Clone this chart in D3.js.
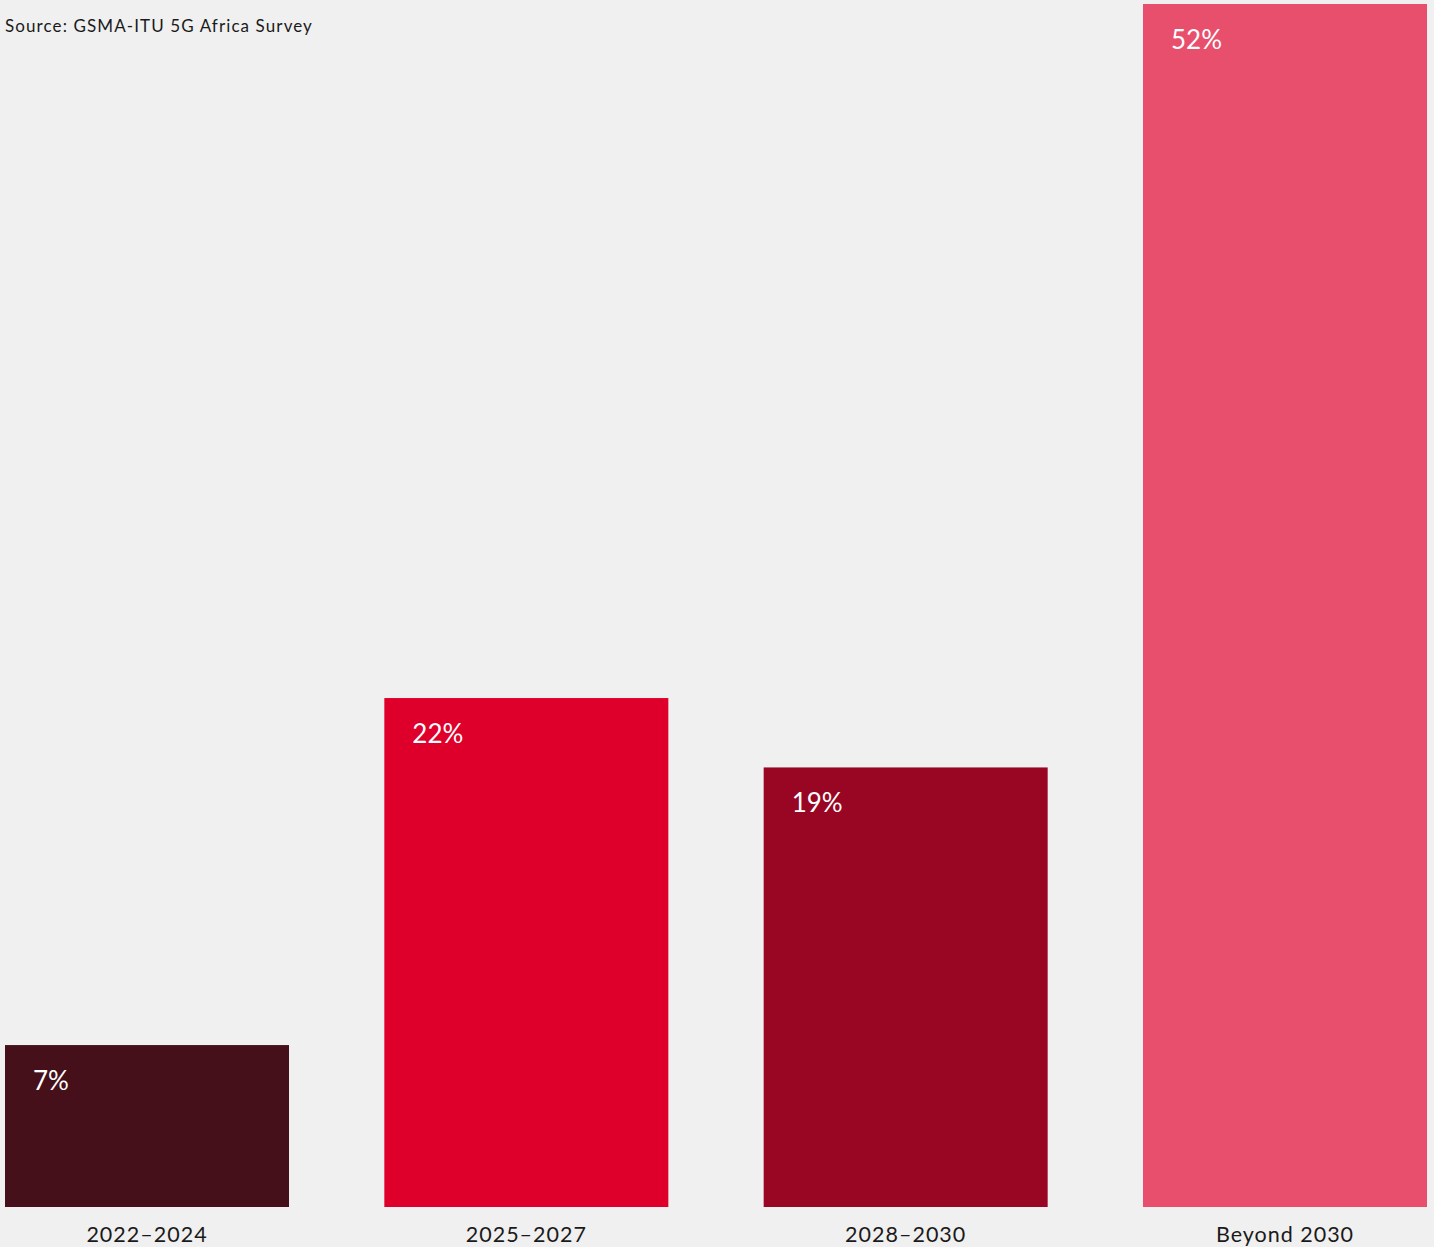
<!DOCTYPE html>
<html>
<head>
<meta charset="utf-8">
<script src="https://cdn.jsdelivr.net/npm/d3@7"></script>
<style>
html, body { margin: 0; padding: 0; background: #f0f0f0; }
svg { display: block; }
</style>
</head>
<body>
<svg id="chart" width="1434" height="1247"></svg>
<script>
const categories = ["2022–2024", "2025–2027", "2028–2030", "Beyond 2030"];
const values = [7, 22, 19, 52];
const valueLabels = ["7%", "22%", "19%", "52%"];
const colors = ["#45101a", "#de002b", "#980624", "#e74f6c"];
const sourceText = "Source: GSMA-ITU 5G Africa Survey";

const W = 1434, H = 1247;
const svg = d3.select("#chart");
svg.append("rect").attr("width", W).attr("height", H).attr("fill", "#f0f0f0");

const x = d3.scaleBand().domain(categories).range([5, 1427]).paddingInner(0.2513).paddingOuter(0);
const y = d3.scaleLinear().domain([0, 52]).range([1207, 4]);

const data = categories.map((c, i) => ({ c, v: values[i], label: valueLabels[i], color: colors[i] }));

svg.selectAll("rect.bar").data(data).enter().append("rect")
  .attr("class", "bar")
  .attr("x", d => x(d.c))
  .attr("y", d => y(d.v))
  .attr("width", x.bandwidth())
  .attr("height", d => y(0) - y(d.v))
  .attr("fill", d => d.color);

svg.selectAll("text.val").data(data).enter().append("text")
  .attr("class", "val")
  .attr("x", d => x(d.c) + 28)
  .attr("y", d => y(d.v) + 45)
  .attr("fill", "#ffffff")
  .style("font-family", "Lato, 'Open Sans', sans-serif")
  .style("font-size", "26px")
  .text(d => d.label);

const xAxis = d3.axisBottom(x).tickSize(0).tickPadding(0);
const gx = svg.append("g").attr("transform", "translate(0,1207)").call(xAxis);
gx.select(".domain").remove();
gx.selectAll("text")
  .attr("dy", null)
  .attr("y", 35)
  .attr("fill", "#1a1a1a")
  .style("font-family", "Lato, 'Open Sans', sans-serif")
  .style("font-size", "21.5px")
  .style("letter-spacing", "1px");

svg.append("text")
  .attr("x", 5)
  .attr("y", 32)
  .attr("fill", "#1a1a1a")
  .style("font-family", "Lato, 'Open Sans', sans-serif")
  .style("font-size", "17px")
  .style("letter-spacing", "1.1px")
  .text(sourceText);
</script>
</body>
</html>
